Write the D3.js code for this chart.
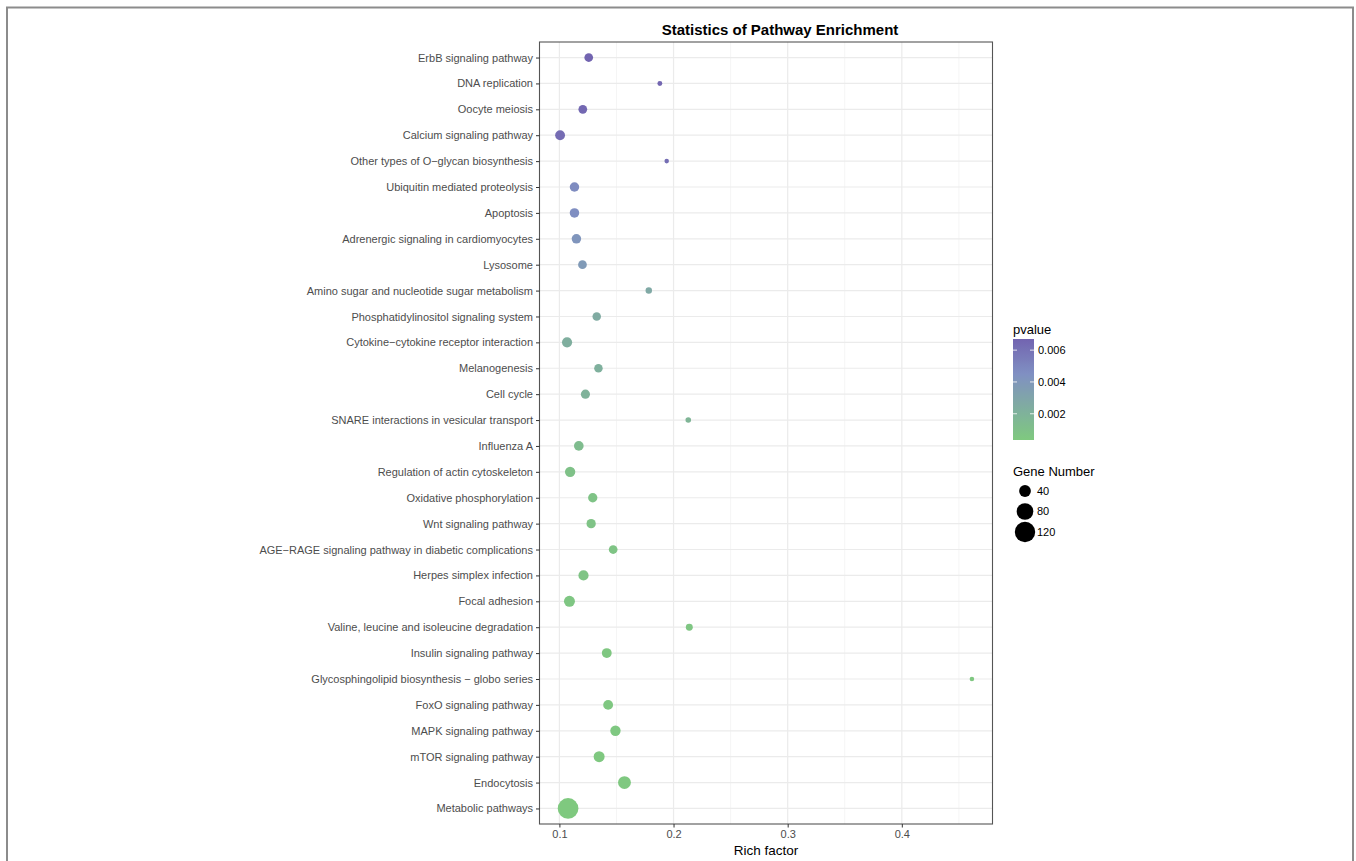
<!DOCTYPE html>
<html>
<head>
<meta charset="utf-8">
<script src="https://cdn.jsdelivr.net/npm/d3@7"></script>
<style>
  body { margin: 0; background: #fff; }
  svg text { font-family: "Liberation Sans", Arial, Helvetica, sans-serif; }
</style>
</head>
<body>
<div id="chart"></div>
<script>
// pathways, top to bottom
const pathways = [
  "ErbB signaling pathway", "DNA replication", "Oocyte meiosis", "Calcium signaling pathway",
  "Other types of O\u2212glycan biosynthesis", "Ubiquitin mediated proteolysis", "Apoptosis",
  "Adrenergic signaling in cardiomyocytes", "Lysosome", "Amino sugar and nucleotide sugar metabolism",
  "Phosphatidylinositol signaling system", "Cytokine\u2212cytokine receptor interaction", "Melanogenesis",
  "Cell cycle", "SNARE interactions in vesicular transport", "Influenza A",
  "Regulation of actin cytoskeleton", "Oxidative phosphorylation", "Wnt signaling pathway",
  "AGE\u2212RAGE signaling pathway in diabetic complications", "Herpes simplex infection", "Focal adhesion",
  "Valine, leucine and isoleucine degradation", "Insulin signaling pathway",
  "Glycosphingolipid biosynthesis \u2212 globo series", "FoxO signaling pathway", "MAPK signaling pathway",
  "mTOR signaling pathway", "Endocytosis", "Metabolic pathways"
]
const richFactor = [
  0.1257, 0.188, 0.1205, 0.1006, 0.194, 0.1132, 0.1132, 0.1149, 0.1202, 0.1783,
  0.1327, 0.1067, 0.1342, 0.1228, 0.2129, 0.117, 0.1094, 0.1292, 0.1278, 0.1471,
  0.1211, 0.1088, 0.2138, 0.1415, 0.4614, 0.1427, 0.1491, 0.1348, 0.157, 0.1076
]
const geneNumber = [
  22, 7, 22, 28, 6, 26, 26, 26, 22, 12,
  21, 30, 21, 24, 9, 27, 31, 25, 25, 22,
  30, 35, 14, 28, 6, 28, 31, 35, 48, 124
]
const pvalue = [
  0.0067, 0.0066, 0.0065, 0.0063, 0.0062, 0.0047, 0.0046, 0.0041, 0.0038, 0.0027,
  0.0025, 0.0023, 0.0022, 0.0020, 0.0018, 0.0013, 0.0009, 0.0008, 0.0008, 0.0007,
  0.0007, 0.0006, 0.0006, 0.0005, 0.0005, 0.0005, 0.00045, 0.0004, 0.0004, 0.00035
]
const xTicks = [0.1, 0.2, 0.3, 0.4]
const pTicks = [0.002, 0.004, 0.006]
const sizeBreaks = [40, 80, 120]

const W = 1356, H = 861
const panel = {left: 539.5, right: 992.5, top: 42, bottom: 824}

const svg = d3.select('#chart').append('svg')
  .attr('width', W).attr('height', H)

// outer frame
svg.append('path')
  .attr('d', `M7,${H + 5} L7,7.5 L1353,7.5 L1353,${H + 5}`)
  .attr('fill', 'none').attr('stroke', '#8c8c8c').attr('stroke-width', 2)

// scales
const xMin = d3.min(richFactor), xMax = d3.max(richFactor)
const pad = (xMax - xMin) * 0.05
const x = d3.scaleLinear().domain([xMin - pad, xMax + pad]).range([panel.left, panel.right])
const y = d3.scalePoint().domain(pathways).range([panel.top, panel.bottom]).padding(0.6)
const r = d3.scaleSqrt().domain([0, 140]).range([0, 11])
const pDomain = [d3.min(pvalue), d3.max(pvalue)]
const color = d3.scaleLinear()
  .domain([pDomain[0], 0.0045, pDomain[1]])
  .range(['#7fc97f', '#8090c2', '#7264b0'])

// grid
const g = svg.append('g')
const minor = d3.range(0.15, xMax + pad, 0.1)
g.selectAll('.minor').data(minor).join('line')
  .attr('x1', d => x(d)).attr('x2', d => x(d))
  .attr('y1', panel.top).attr('y2', panel.bottom)
  .attr('stroke', '#f2f2f2').attr('stroke-width', 0.8)
g.selectAll('.vmajor').data(xTicks).join('line')
  .attr('x1', d => x(d)).attr('x2', d => x(d))
  .attr('y1', panel.top).attr('y2', panel.bottom)
  .attr('stroke', '#ebebeb').attr('stroke-width', 1.2)
g.selectAll('.hmajor').data(pathways).join('line')
  .attr('x1', panel.left).attr('x2', panel.right)
  .attr('y1', d => y(d)).attr('y2', d => y(d))
  .attr('stroke', '#ebebeb').attr('stroke-width', 1.2)

// points
svg.append('g').selectAll('circle').data(pathways).join('circle')
  .attr('cx', (d, i) => x(richFactor[i]))
  .attr('cy', d => y(d))
  .attr('r', (d, i) => r(geneNumber[i]))
  .attr('fill', (d, i) => color(pvalue[i]))

// panel border
svg.append('rect')
  .attr('x', panel.left).attr('y', panel.top)
  .attr('width', panel.right - panel.left).attr('height', panel.bottom - panel.top)
  .attr('fill', 'none').attr('stroke', '#555').attr('stroke-width', 1.1)

// axes
const xAxis = svg.append('g').attr('transform', `translate(0,${panel.bottom})`)
  .call(d3.axisBottom(x).tickValues(xTicks).tickSize(3.5).tickPadding(3).tickFormat(d3.format('.1f')))
xAxis.select('.domain').remove()
xAxis.selectAll('line').attr('stroke', '#333')
xAxis.selectAll('text').attr('fill', '#4d4d4d').style('font-size', '11px')

const yAxis = svg.append('g').attr('transform', `translate(${panel.left},0)`)
  .call(d3.axisLeft(y).tickSize(3.5).tickPadding(3))
yAxis.select('.domain').remove()
yAxis.selectAll('line').attr('stroke', '#333')
yAxis.selectAll('text').attr('fill', '#4d4d4d').style('font-size', '11px')

svg.append('text').attr('x', (panel.left + panel.right) / 2).attr('y', 855)
  .attr('text-anchor', 'middle').style('font-size', '13.5px').attr('fill', '#000')
  .text('Rich factor')

svg.append('text').attr('x', 780).attr('y', 35)
  .attr('text-anchor', 'middle').style('font-size', '15px').style('font-weight', 'bold')
  .text('Statistics of Pathway Enrichment')

// colour legend
const bar = {x: 1013, y: 339, w: 21, h: 101}
svg.append('text').attr('x', bar.x).attr('y', 334).style('font-size', '13px').text('pvalue')
const grad = svg.append('defs').append('linearGradient').attr('id', 'pgrad')
  .attr('x1', 0).attr('x2', 0).attr('y1', 1).attr('y2', 0)
grad.selectAll('stop').data(d3.range(0, 1.0001, 0.05)).join('stop')
  .attr('offset', d => d)
  .attr('stop-color', d => color(pDomain[0] + d * (pDomain[1] - pDomain[0])))
svg.append('rect').attr('x', bar.x).attr('y', bar.y).attr('width', bar.w).attr('height', bar.h)
  .attr('fill', 'url(#pgrad)')
const py = d3.scaleLinear().domain(pDomain).range([bar.y + bar.h, bar.y])
const pt = svg.append('g')
pt.selectAll('.tl').data(pTicks).join('line')
  .attr('x1', bar.x).attr('x2', bar.x + 4).attr('y1', d => py(d)).attr('y2', d => py(d))
  .attr('stroke', '#fff').attr('stroke-opacity', 0.8)
pt.selectAll('.tr').data(pTicks).join('line')
  .attr('x1', bar.x + bar.w - 4).attr('x2', bar.x + bar.w).attr('y1', d => py(d)).attr('y2', d => py(d))
  .attr('stroke', '#fff').attr('stroke-opacity', 0.8)
pt.selectAll('text').data(pTicks).join('text')
  .attr('x', bar.x + bar.w + 4).attr('y', d => py(d)).attr('dy', '0.35em')
  .style('font-size', '11px').text(d => d3.format('.3f')(d))

// size legend
svg.append('text').attr('x', bar.x).attr('y', 476).style('font-size', '13px').text('Gene Number')
const sl = svg.append('g')
sl.selectAll('circle').data(sizeBreaks).join('circle')
  .attr('cx', 1025).attr('cy', (d, i) => 491 + i * 20.5)
  .attr('r', d => r(d)).attr('fill', '#000')
sl.selectAll('text').data(sizeBreaks).join('text')
  .attr('x', 1037).attr('y', (d, i) => 491 + i * 20.5).attr('dy', '0.35em')
  .style('font-size', '11px').text(d => d)
</script>
</body>
</html>
